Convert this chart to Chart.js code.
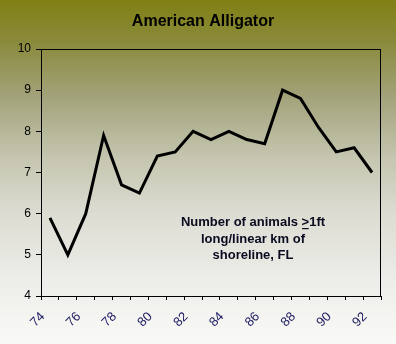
<!DOCTYPE html>
<html>
<head>
<meta charset="utf-8">
<script src="https://cdn.jsdelivr.net/npm/chart.js@4/dist/chart.umd.min.js"></script>
<style>
html,body{margin:0;padding:0;background:#fff;}
#wrap{width:396px;height:344px;position:relative;}
</style>
</head>
<body>
<div id="wrap"><canvas id="c" width="396" height="344"></canvas></div>
<script>
const years = ['74','75','76','77','78','79','80','81','82','83','84','85','86','87','88','89','90','91','92'];
const alligators = [5.9,5.0,6.0,7.9,6.7,6.5,7.4,7.5,8.0,7.8,8.0,7.8,7.7,9.0,8.8,8.1,7.5,7.6,7.0];
const yTicks = [4,5,6,7,8,9,10];
const titleText = 'American Alligator';
const noteLines = [['Number of animals ', '>', '1ft'], ['long/linear km of'], ['shoreline, FL']];

const bgPlugin = {
  id: 'bg',
  beforeDraw(chart) {
    const ctx = chart.ctx, w = chart.width, h = chart.height;
    const g = ctx.createLinearGradient(0, 0, 0, h);
    g.addColorStop(0, '#808014');
    g.addColorStop(0.12, '#8a8a3c');
    g.addColorStop(0.28, '#a2a27a');
    g.addColorStop(0.45, '#c4c4ae');
    g.addColorStop(0.62, '#dcdcd2');
    g.addColorStop(0.8, '#ececE8');
    g.addColorStop(1, '#f9f9f7');
    ctx.save();
    ctx.fillStyle = g;
    ctx.fillRect(0, 0, w, h);
    ctx.restore();
  },
  afterDraw(chart) {
    const ctx = chart.ctx, a = chart.chartArea;
    ctx.save();
    ctx.strokeStyle = '#000';
    ctx.lineWidth = 1;
    ctx.strokeRect(Math.round(a.left) + 0.5, Math.round(a.top) + 0.5, Math.round(a.right - a.left) - 1, Math.round(a.bottom - a.top));
    ctx.fillStyle = '#000';
    ctx.font = 'bold 16px "Liberation Sans", Arial, sans-serif';
    ctx.textAlign = 'center';
    ctx.textBaseline = 'alphabetic';
    ctx.fillText(titleText, 203, 26);
    ctx.font = 'bold 13px "Liberation Sans", Arial, sans-serif';
    ctx.fillStyle = '#0a0a20';
    ctx.textAlign = 'left';
    const cx = 253;
    const baseY = [226, 243, 259];
    noteLines.forEach((parts, i) => {
      const full = parts.join('');
      const tw = ctx.measureText(full).width;
      let x = cx - tw / 2;
      parts.forEach((p) => {
        ctx.fillText(p, x, baseY[i]);
        const pw = ctx.measureText(p).width;
        if (p === '>') {
          ctx.fillRect(x + 0.5, baseY[i] + 2, pw - 1, 1.2);
        }
        x += pw;
      });
    });
    ctx.restore();
  }
};

new Chart(document.getElementById('c'), {
  type: 'line',
  data: {
    labels: years,
    datasets: [{
      data: alligators,
      borderColor: '#000',
      borderWidth: 3,
      pointRadius: 0,
      tension: 0,
      fill: false
    }]
  },
  options: {
    responsive: false,
    animation: false,
    devicePixelRatio: 1,
    layout: { padding: { top: 49, right: 15, left: 0, bottom: 0 } },
    plugins: { legend: { display: false }, title: { display: false }, tooltip: { enabled: false } },
    scales: {
      x: {
        type: 'category',
        offset: true,
        grid: { display: true, offset: true, drawOnChartArea: false, drawTicks: true, tickLength: 4, color: '#000' },
        border: { display: true, color: '#000', width: 1 },
        ticks: {
          autoSkip: false,
          maxRotation: 45,
          minRotation: 45,
          padding: 9,
          labelOffset: -7,
          color: '#1a1a60',
          font: { family: '"Liberation Sans", Arial, sans-serif', size: 13 },
          callback: function(v, i) { const l = years[i]; return (parseInt(l) % 2 === 0) ? l : ''; }
        },
        afterFit(s) { s.height = 48; }
      },
      y: {
        min: 4, max: 10,
        afterBuildTicks(s) { s.ticks = yTicks.map(v => ({ value: v })); },
        grid: { display: true, drawOnChartArea: false, drawTicks: true, tickLength: 5, color: '#000' },
        border: { display: true, color: '#000', width: 1 },
        ticks: {
          padding: 5,
          color: '#000',
          font: { family: '"Liberation Sans", Arial, sans-serif', size: 12 }
        },
        afterFit(s) { s.width = 41; }
      }
    }
  },
  plugins: [bgPlugin]
});
</script>
</body>
</html>
